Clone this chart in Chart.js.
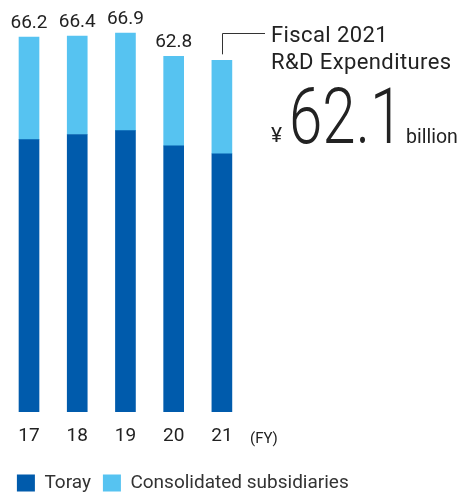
<!DOCTYPE html>
<html>
<head>
<meta charset="utf-8">
<script src="https://cdn.jsdelivr.net/npm/chart.js@4/dist/chart.umd.min.js"></script>
<style>
  html, body { margin: 0; padding: 0; background: #fff; }
  #wrap { position: relative; width: 468px; height: 493px; }
</style>
</head>
<body>
<div id="wrap"><canvas id="rdChart"></canvas></div>
<script>
// values in billions of yen
const fiscalYears = ['17', '18', '19', '20', '21'];
const torayValues = [48.1, 49.0, 49.7, 47.0, 45.6];
const subsidiaryValues = [18.1, 17.4, 17.2, 15.8, 16.5];
const seriesNames = ['Toray', 'Consolidated subsidiaries'];

const DARK_BLUE = '#005bac';
const LIGHT_BLUE = '#56c3f1';
const TEXT = '#222';
const FONT = 'Roboto, "Liberation Sans", sans-serif';

function totalAt(i) {
    return Math.round((torayValues[i] + subsidiaryValues[i]) * 10) / 10;
}

// totals above bars, plus the callout for the latest year
const labelsPlugin = {
    id: 'rdLabels',
    afterDatasetsDraw: function (chart) {
        const ctx = chart.ctx;
        const topMeta = chart.getDatasetMeta(1);
        const last = fiscalYears.length - 1;

        ctx.save();
        ctx.fillStyle = TEXT;
        ctx.textAlign = 'center';
        ctx.textBaseline = 'alphabetic';
        ctx.font = '19px ' + FONT;
        topMeta.data.forEach(function (bar, i) {
            if (i === last) return;
            ctx.fillText(totalAt(i).toFixed(1), bar.x, bar.y - 9);
        });

        // leader line
        const lastBar = topMeta.data[last];
        const lx = Math.round(lastBar.x) + 0.5;
        ctx.strokeStyle = '#333';
        ctx.lineWidth = 1;
        ctx.beginPath();
        ctx.moveTo(lx, lastBar.y - 6);
        ctx.lineTo(lx, 33.5);
        ctx.lineTo(265, 33.5);
        ctx.stroke();

        ctx.textAlign = 'left';
        ctx.font = '22px ' + FONT;
        ctx.letterSpacing = '0.4px';
        ctx.fillText('Fiscal 2021', 271, 42);
        ctx.fillText('R&D Expenditures', 271, 69);
        ctx.letterSpacing = '0px';

        ctx.font = '21px ' + FONT;
        ctx.fillText('¥', 271, 142);

        ctx.save();
        ctx.translate(289, 143);
        ctx.scale(0.78, 1);
        ctx.font = '300 77px ' + FONT;
        ctx.fillText(totalAt(last).toFixed(1), 0, 0);
        ctx.restore();

        ctx.font = '19.5px ' + FONT;
        ctx.fillText('billion', 406, 143);

        // unit next to the axis labels
        const xScale = chart.scales.x;
        ctx.font = '15px ' + FONT;
        ctx.fillText('(FY)', 250, xScale.top + 31);
        ctx.restore();
    }
};

new Chart(document.getElementById('rdChart').getContext('2d'), {
    type: 'bar',
    data: {
        labels: fiscalYears,
        datasets: [
            {
                label: seriesNames[0],
                data: torayValues,
                backgroundColor: DARK_BLUE,
                barThickness: 20
            },
            {
                label: seriesNames[1],
                data: subsidiaryValues,
                backgroundColor: LIGHT_BLUE,
                barThickness: 20
            }
        ]
    },
    options: {
        responsive: true,
        maintainAspectRatio: false,
        animation: false,
        layout: {
            padding: { left: 4.9, right: 0, top: 15.6, bottom: -9.5 }
        },
        plugins: {
            legend: {
                position: 'bottom',
                align: 'start',
                labels: {
                    boxWidth: 18,
                    boxHeight: 17,
                    padding: 12,
                    color: '#333',
                    font: { family: FONT, size: 19 }
                }
            },
            tooltip: { enabled: false }
        },
        scales: {
            x: {
                stacked: true,
                grid: { display: false, drawTicks: false },
                border: { display: false },
                ticks: {
                    color: TEXT,
                    padding: 13,
                    font: { family: FONT, size: 19 }
                },
                afterFit: function (scale) { scale.height = 49.5; }
            },
            y: {
                stacked: true,
                position: 'right',
                min: 0,
                max: 70,
                grid: { display: false, drawTicks: false },
                border: { display: false },
                ticks: { display: false },
                afterFit: function (scale) { scale.width = 222; }
            }
        }
    },
    plugins: [labelsPlugin]
});
</script>
</body>
</html>
